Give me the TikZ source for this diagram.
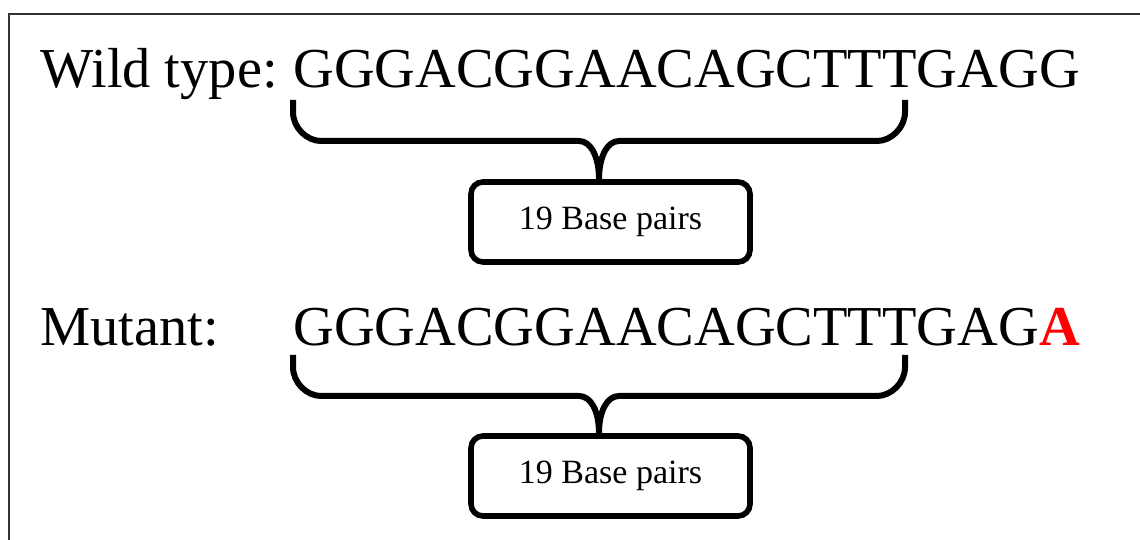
\documentclass[tikz,border=0pt]{standalone}
\usepackage{fontspec}
\setmainfont{Liberation Serif}
\usetikzlibrary{calc}

\begin{document}
\begin{tikzpicture}[x=0.5pt, y=0.5pt,
	seq text/.style={anchor=base west, inner sep=0pt, font=\fontsize{28.2}{34}\selectfont},
	count box/.style={draw, line width=2.8pt, rounded corners=6pt, inner sep=0pt,
		minimum width=139.5pt, minimum height=40pt, font=\fontsize{17}{20}\selectfont},
	brace line/.style={line width=3pt}]
	
	\useasboundingbox (0,0) rectangle (1140,540);
	\draw[black!80, line width=1pt] (9,-20) -- (9,526) -- (1160,526);
	
	% wild type row
	\node[seq text] (wtlabel) at (40,452) {Wild type:};
	\node[seq text] (wtseq) at (293,452) {GGGACGGAACAGCTTTGAGG};
	\node[count box] (wtbox) at (610.5,318) {19 Base pairs};
	\coordinate (wtL) at (293,440);
	\coordinate (wtR) at (905,440);
	\coordinate (wtmid) at ($(wtL)!0.5!(wtR)$);
	\coordinate (wttip) at (wtmid |- wtbox.north);
	\draw[brace line] (wtL) -- ($(wtL)+(0,-12)$)
		.. controls +(0,-16) and +(-14,0) .. ($(wtL)+(28,-41)$)
		-- ($(wtmid)+(-20,-41)$)
		.. controls +(12,0) and +(0,22) .. (wttip)
		.. controls +(0,22) and +(-12,0) .. ($(wtmid)+(20,-41)$)
		-- ($(wtR)+(-28,-41)$)
		.. controls +(14,0) and +(0,-16) .. ($(wtR)+(0,-12)$) -- (wtR);
	
	% mutant row
	\node[seq text] (mtlabel) at (40,194) {Mutant:};
	\node[seq text] (mtseq) at (293,194) {GGGACGGAACAGCTTTGAG\textcolor{red}{\bfseries A}};
	\node[count box] (mtbox) at (610.5,64) {19 Base pairs};
	\coordinate (mtL) at (293,185);
	\coordinate (mtR) at (905,185);
	\coordinate (mtmid) at ($(mtL)!0.5!(mtR)$);
	\coordinate (mttip) at (mtmid |- mtbox.north);
	\draw[brace line] (mtL) -- ($(mtL)+(0,-12)$)
		.. controls +(0,-16) and +(-14,0) .. ($(mtL)+(28,-41)$)
		-- ($(mtmid)+(-20,-41)$)
		.. controls +(12,0) and +(0,22) .. (mttip)
		.. controls +(0,22) and +(-12,0) .. ($(mtmid)+(20,-41)$)
		-- ($(mtR)+(-28,-41)$)
		.. controls +(14,0) and +(0,-16) .. ($(mtR)+(0,-12)$) -- (mtR);
\end{tikzpicture}
\end{document}
